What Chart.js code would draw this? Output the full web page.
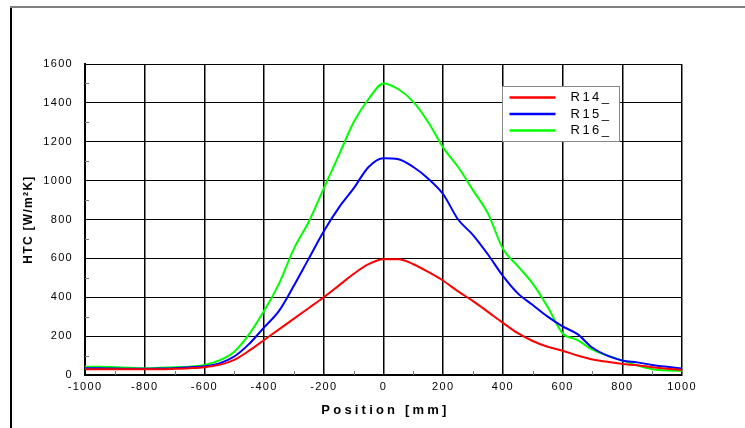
<!DOCTYPE html>
<html>
<head>
<meta charset="utf-8">
<script src="https://cdn.jsdelivr.net/npm/chart.js@4/dist/chart.umd.min.js"></script>
<style>
  html, body { margin: 0; padding: 0; background: #fff; }
  #wrap { position: relative; width: 745px; height: 428px; overflow: hidden; }
  canvas { display: block; position: absolute; left: 0; top: 0; }
  #topline { position: absolute; left: 10px; top: 6px; width: 735px; height: 2px; background: #808080; z-index: 2; }
</style>
</head>
<body>
<div id="wrap">
  <canvas id="c" width="745" height="428"></canvas>
  <div id="topline"></div>
</div>
<script>
// ---- data ----
const positions = [-1000, -950, -900, -850, -800, -750, -700, -650, -600, -550, -500,
  -450, -400, -350, -300, -250, -200, -150, -100, -50, 0,
  50, 100, 150, 200, 250, 300, 350, 400, 450, 500,
  550, 600, 650, 700, 750, 800, 850, 900, 950, 1000];

const r14 = [30, 30, 30, 30, 30, 30, 32, 35, 40, 52, 78,
  125, 180, 235, 290, 345, 400, 460, 520, 570, 595,
  595, 570, 530, 485, 430, 380, 325, 268, 215, 175,
  145, 125, 100, 80, 68, 57, 50, 40, 32, 26];

const r15 = [35, 35, 33, 32, 32, 33, 35, 40, 45, 60, 95,
  160, 245, 330, 460, 600, 740, 860, 960, 1070, 1115,
  1110, 1070, 1010, 930, 800, 720, 620, 510, 420, 360,
  300, 250, 210, 140, 100, 75, 65, 52, 42, 34];

const r16 = [42, 42, 40, 37, 35, 37, 40, 43, 52, 75, 120,
  210, 330, 470, 650, 790, 960, 1130, 1300, 1420, 1500,
  1470, 1405, 1300, 1170, 1070, 950, 830, 650, 560, 470,
  350, 215, 180, 130, 100, 75, 50, 30, 23, 22];

const seriesNames = ['R14_', 'R15_', 'R16_'];
const seriesColors = ['#ff0000', '#0000ff', '#00ff00'];
const seriesValues = [r14, r15, r16];

const xTicks = [-1000, -800, -600, -400, -200, 0, 200, 400, 600, 800, 1000];
const yTicks = [0, 200, 400, 600, 800, 1000, 1200, 1400, 1600];
const xTitle = 'Position [mm]';
const yTitle = 'HTC [W/m²K]';

const FONT = "'Liberation Sans', Arial, sans-serif";

// outer frame + letter spacing for the canvas text
const frame = {
  id: 'frame',
  afterDraw(chart) {
    const ctx = chart.ctx;
    ctx.save();
    ctx.fillStyle = '#808080';
    ctx.fillRect(10, 6, 735, 2);
    ctx.fillStyle = '#000';
    ctx.fillRect(10, 7, 2, 421);
    ctx.restore();
  },
  beforeDraw(chart) { chart.ctx.letterSpacing = '1.3px'; }
};

// minor tick marks at the odd hundreds, inside the axes
const minorTicks = {
  id: 'minorTicks',
  afterDraw(chart) {
    const { ctx, chartArea: a, scales } = chart;
    ctx.save();
    ctx.strokeStyle = '#777';
    ctx.lineWidth = 1;
    ctx.beginPath();
    for (let v = 100; v < 1600; v += 200) {
      const y = Math.round(scales.y.getPixelForValue(v)) + 0.5;
      ctx.moveTo(a.left, y); ctx.lineTo(a.left + 4, y);
    }
    for (let v = -900; v < 1000; v += 200) {
      const x = Math.round(scales.x.getPixelForValue(v)) + 0.5;
      ctx.moveTo(x, a.bottom); ctx.lineTo(x, a.bottom - 4);
    }
    ctx.stroke();

    // x axis title, widely spaced like the reference
    ctx.font = 'bold 13px ' + FONT;
    ctx.letterSpacing = '3.2px';
    ctx.fillStyle = '#000';
    ctx.textAlign = 'center';
    ctx.textBaseline = 'middle';
    ctx.fillText(xTitle, (a.left + a.right) / 2 + 2, 410);
    ctx.restore();
  }
};

// boxed legend inside the plot, upper right
const boxLegend = {
  id: 'boxLegend',
  afterDraw(chart) {
    const ctx = chart.ctx;
    const bx = 502.5, by = 86.5, bw = 117, bh = 55;
    ctx.save();
    ctx.fillStyle = '#fff';
    ctx.fillRect(bx, by, bw, bh);
    ctx.strokeStyle = '#888';
    ctx.lineWidth = 1;
    ctx.strokeRect(bx, by, bw, bh);
    ctx.font = '13px ' + FONT;
    ctx.letterSpacing = '2.5px';
    ctx.textBaseline = 'middle';
    chart.data.datasets.forEach((ds, i) => {
      const y = by + 11 + i * 16.5;
      ctx.strokeStyle = ds.borderColor;
      ctx.lineWidth = 2.5;
      ctx.beginPath();
      ctx.moveTo(bx + 7, y); ctx.lineTo(bx + 53, y);
      ctx.stroke();
      ctx.fillStyle = '#000';
      ctx.fillText(ds.label, bx + 68, y);
    });
    ctx.restore();
  }
};

new Chart(document.getElementById('c'), {
  type: 'line',
  data: {
    datasets: seriesValues.map((vals, i) => ({
      label: seriesNames[i],
      data: positions.map((p, k) => ({ x: p, y: vals[k] })),
      borderColor: seriesColors[i],
      borderWidth: 2,
      pointRadius: 0,
      tension: 0.4,
      cubicInterpolationMode: 'monotone',
      fill: false
    }))
  },
  options: {
    responsive: false,
    animation: false,
    devicePixelRatio: 1,
    layout: { padding: { left: 16, right: 63, top: 64, bottom: 0 } },
    plugins: { legend: { display: false }, tooltip: { enabled: false } },
    scales: {
      x: {
        type: 'linear',
        min: -1000, max: 1000,
        afterBuildTicks: s => { s.ticks = xTicks.map(v => ({ value: v })); },
        afterFit: s => { s.height = 53; },
        grid: { color: '#000', lineWidth: 1.5, drawTicks: false },
        border: { color: '#000', width: 2 },
        ticks: { color: '#000', padding: 5, maxRotation: 0, font: { family: FONT, size: 11 },
          callback: v => String(v) }
      },
      y: {
        min: 0, max: 1600,
        afterBuildTicks: s => { s.ticks = yTicks.map(v => ({ value: v })); },
        afterFit: s => { s.width = 69; },
        grid: { color: '#000', lineWidth: 1, drawTicks: false },
        border: { color: '#000', width: 2 },
        ticks: { color: '#000', padding: 12, font: { family: FONT, size: 11 },
          callback: v => String(v) },
        title: {
          display: true, text: yTitle, color: '#000',
          font: { family: FONT, size: 12, weight: 'bold' }, padding: { top: 5, bottom: 0 }
        }
      }
    }
  },
  plugins: [frame, minorTicks, boxLegend]
});
</script>
</body>
</html>
